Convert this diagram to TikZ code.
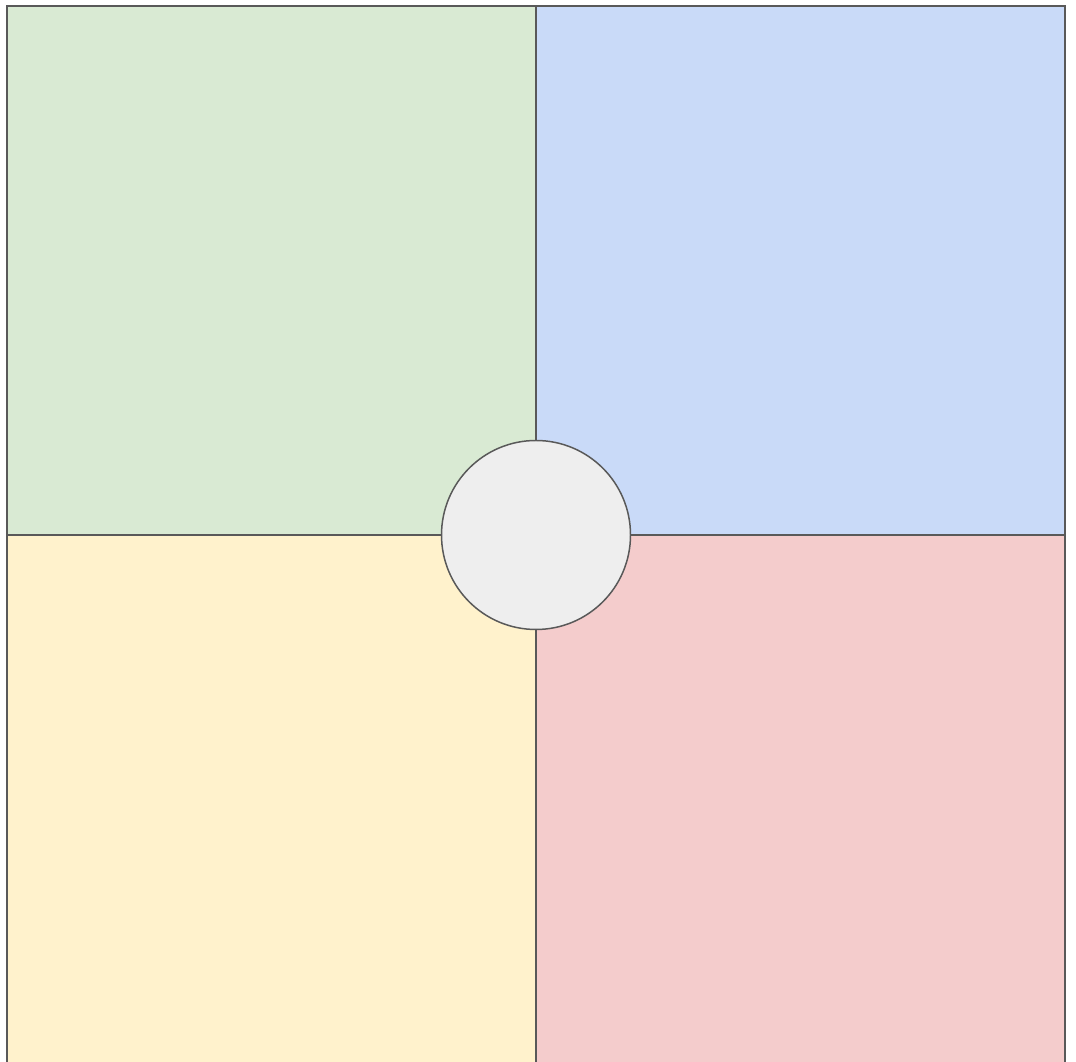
\documentclass[tikz,border=0pt]{standalone}
\definecolor{qgreen}{HTML}{D9EAD3}
\definecolor{qblue}{HTML}{C9DAF8}
\definecolor{qyellow}{HTML}{FFF2CC}
\definecolor{qred}{HTML}{F4CCCC}
\definecolor{qcircle}{HTML}{EEEEEE}
\definecolor{qline}{HTML}{595959}
\begin{document}
\begin{tikzpicture}[x=1pt,y=1pt,
  quad/.style={draw=qline,line width=1.5pt,rectangle,inner sep=0pt,outer sep=0pt,minimum width=529pt,minimum height=529pt},
  hub/.style={draw=qline,line width=1.5pt,circle,fill=qcircle,inner sep=0pt,outer sep=0pt,minimum size=189pt}]
\useasboundingbox (0,0) rectangle (1076,1062);
\clip (0,0) rectangle (1076,1062);
\node[quad,fill=qgreen,anchor=south west] (tl) at (7,527) {};
\node[quad,fill=qblue,anchor=south west] (tr) at (536,527) {};
\node[quad,fill=qyellow,anchor=north west] (bl) at (7,527) {};
\node[quad,fill=qred,anchor=north west] (br) at (536,527) {};
\node[hub] (c) at (536,527) {};
\end{tikzpicture}
\end{document}
